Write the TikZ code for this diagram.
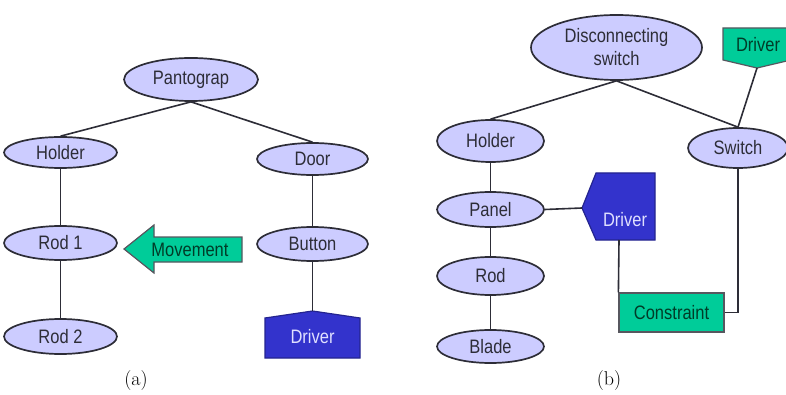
\documentclass[tikz,border=0pt]{standalone}
\usepackage{fontspec}
\usepackage{graphicx}
\newfontfamily\arialf{Liberation Sans}
\usetikzlibrary{shapes.geometric}
\definecolor{lav}{RGB}{204,204,255}
\definecolor{grn}{RGB}{0,204,153}
\definecolor{blu}{RGB}{51,51,204}
\definecolor{edgec}{RGB}{45,45,55}
\definecolor{gtxt}{RGB}{0,60,40}
\newcommand{\st}[1]{\scalebox{1}[1.18]{#1}}
\tikzset{
  ell/.style={ellipse, draw=edgec, fill=lav, line width=1.7pt, inner sep=0pt,
    font=\arialf\fontsize{16.5}{22}\selectfont, text=edgec},
  conn/.style={draw=edgec, line width=1.6pt},
  gshape/.style={fill=grn, draw=edgec!80, line width=1.2pt},
  bshape/.style={fill=blu, draw=blu!70!black, line width=1.2pt},
  gtext/.style={inner sep=0pt, font=\arialf\fontsize{16.5}{22}\selectfont, text=gtxt},
  btext/.style={inner sep=0pt, font=\arialf\fontsize{16.5}{22}\selectfont, text=lav!60!white},
  sublabel/.style={inner sep=0pt, font=\fontsize{20}{24}\selectfont}
}
\begin{document}
\begin{tikzpicture}[x=1pt,y=-1pt]
\useasboundingbox (0,0) rectangle (786,395);
% ---------- (a) ----------
\node[ell, minimum width=134pt, minimum height=43pt] (panto) at (191,79.5) {\st{Pantograp}};
\node[ell, minimum width=113pt, minimum height=31pt] (holdA) at (60.5,152.5) {\st{Holder}};
\node[ell, minimum width=111pt, minimum height=32pt] (door) at (312.5,159) {\st{Door}};
\node[ell, minimum width=113pt, minimum height=34pt] (rodA) at (60.5,243) {\st{Rod 1}};
\node[ell, minimum width=111pt, minimum height=34pt] (button) at (312.5,244) {\st{Button}};
\node[ell, minimum width=113pt, minimum height=35pt] (rodB) at (60.5,336.5) {\st{Rod 2}};
% Driver (a)
\path[bshape] (265,358) -- (265,318) -- (312.5,311) -- (360,318) -- (360,358) -- cycle;
\coordinate (drvAtop) at (312.5,311);
\node[btext] (drvA) at (312.5,337) {\st{Driver}};
% Movement arrow
\path[gshape] (124,249) -- (154,225) -- (154,237) -- (242,237) -- (242,262) -- (154,262) -- (154,273) -- cycle;
\node[gtext] (move) at (190,250) {\st{Movement}};
% connectors (a)
\draw[conn] (panto.south) -- (holdA.north);
\draw[conn] (panto.south) -- (door.north);
\draw[conn] (holdA.south) -- (rodA.north);
\draw[conn] (rodA.south) -- (rodB.north);
\draw[conn] (door.south) -- (button.north);
\draw[conn] (button.south) -- (drvAtop);
\node[sublabel] (capa) at (136,381) {(a)};
% ---------- (b) ----------
\node[ell, minimum width=171pt, minimum height=65pt, align=center] (disc) at (616.5,47.5) {\st{Disconnecting}\\[1pt]\st{switch}};
\node[ell, minimum width=107pt, minimum height=42pt] (holdB) at (490.5,141) {\st{Holder}};
\node[ell, minimum width=100pt, minimum height=40pt] (switch) at (738,148) {\st{Switch}};
\node[ell, minimum width=107pt, minimum height=35pt] (panel) at (490.5,209.5) {\st{Panel}};
\node[ell, minimum width=107pt, minimum height=38pt] (rodC) at (490.5,276) {\st{Rod}};
\node[ell, minimum width=107pt, minimum height=33pt] (blade) at (490.5,346.5) {\st{Blade}};
% Driver (b), blue
\path[bshape] (582,208) -- (596,173) -- (655,173) -- (655,240) -- (596,240) -- cycle;
\coordinate (drvBtip) at (582,208);
\coordinate (drvBbot) at (619,240);
\node[btext] (drvB) at (625,220) {\st{Driver}};
% Driver (b), green
\path[gshape] (723,28) -- (791,28) -- (791,60) -- (757,68) -- (723,60) -- cycle;
\coordinate (drvGtip) at (757,68);
\node[gtext] (drvG) at (758,45) {\st{Driver}};
% Constraint
\node[gtext, fill=grn, draw=edgec!80, line width=1.2pt, minimum width=105pt, minimum height=39pt] (cons) at (671.5,312.5) {\st{Constraint}};
% connectors (b)
\draw[conn] (disc.south) -- (holdB.north);
\draw[conn] (disc.south) -- (switch.north);
\draw[conn] (drvGtip) -- (switch.north);
\draw[conn] (holdB.south) -- (panel.north);
\draw[conn] (panel.south) -- (rodC.north);
\draw[conn] (rodC.south) -- (blade.north);
\draw[conn] (panel.east) -- (drvBtip);
\draw[conn] (drvBbot) -- (cons.north west);
\draw[conn] (cons.east) -| (switch.south);
\node[sublabel] (capb) at (609,381) {(b)};
\end{tikzpicture}
\end{document}
